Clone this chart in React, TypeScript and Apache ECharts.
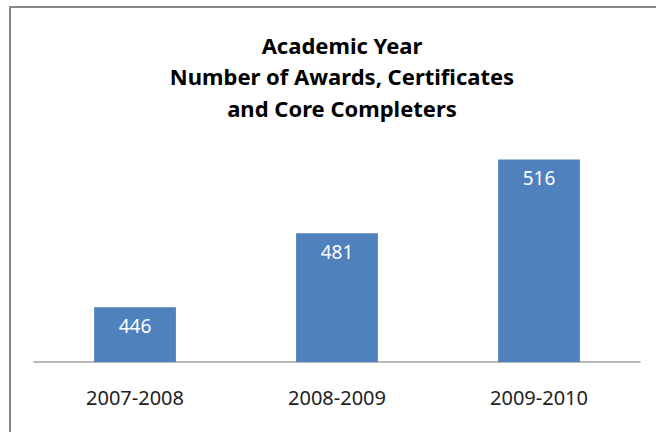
import React, { useEffect, useRef } from "react";
import * as echarts from "echarts";

const categories = ["2007-2008", "2008-2009", "2009-2010"];
const awards = [446, 481, 516];
const titleLines = ["Academic Year", "Number of Awards, Certificates", "and Core Completers"];

export default function App() {
  const ref = useRef<HTMLDivElement>(null);
  useEffect(() => {
    const chart = echarts.init(ref.current!, null, { renderer: "svg" });
    chart.setOption({
      animation: false,
      backgroundColor: "#ffffff",
      title: {
        text: titleLines.join("\n"),
        left: 337,
        textAlign: "center",
        top: 24,
        textStyle: {
          fontFamily: "Noto Sans",
          fontSize: 22,
          fontWeight: "bold",
          color: "#000000",
          lineHeight: 31.5,
        },
      },
      graphic: [
        {
          type: "polyline",
          shape: { points: [[10, 440], [10, 7], [700, 7]] },
          style: { stroke: "#878787", lineWidth: 2, fill: null },
        },
      ],
      grid: { left: 34, right: 16, top: 130, bottom: 70 },
      xAxis: {
        type: "category",
        data: categories,
        axisTick: { show: false },
        axisLine: { lineStyle: { color: "#a0a0a0", width: 1.5 } },
        axisLabel: {
          fontFamily: "Noto Sans",
          fontSize: 20,
          color: "#222222",
          margin: 25,
        },
      },
      yAxis: {
        type: "value",
        min: 420,
        max: 530,
        interval: 10,
        show: false,
        splitLine: { show: false },
      },
      series: [
        {
          type: "bar",
          data: awards,
          barWidth: "40.5%",
          itemStyle: { color: "#4f81bd" },
          label: {
            show: true,
            position: "insideTop",
            distance: 9,
            color: "#ffffff",
            fontFamily: "Noto Sans",
            fontSize: 19,
          },
        },
      ],
    });
    return () => chart.dispose();
  }, []);
  return (
    <div
      ref={ref}
      style={{ position: "fixed", left: 0, top: 0, width: 656, height: 432 }}
    />
  );
}
